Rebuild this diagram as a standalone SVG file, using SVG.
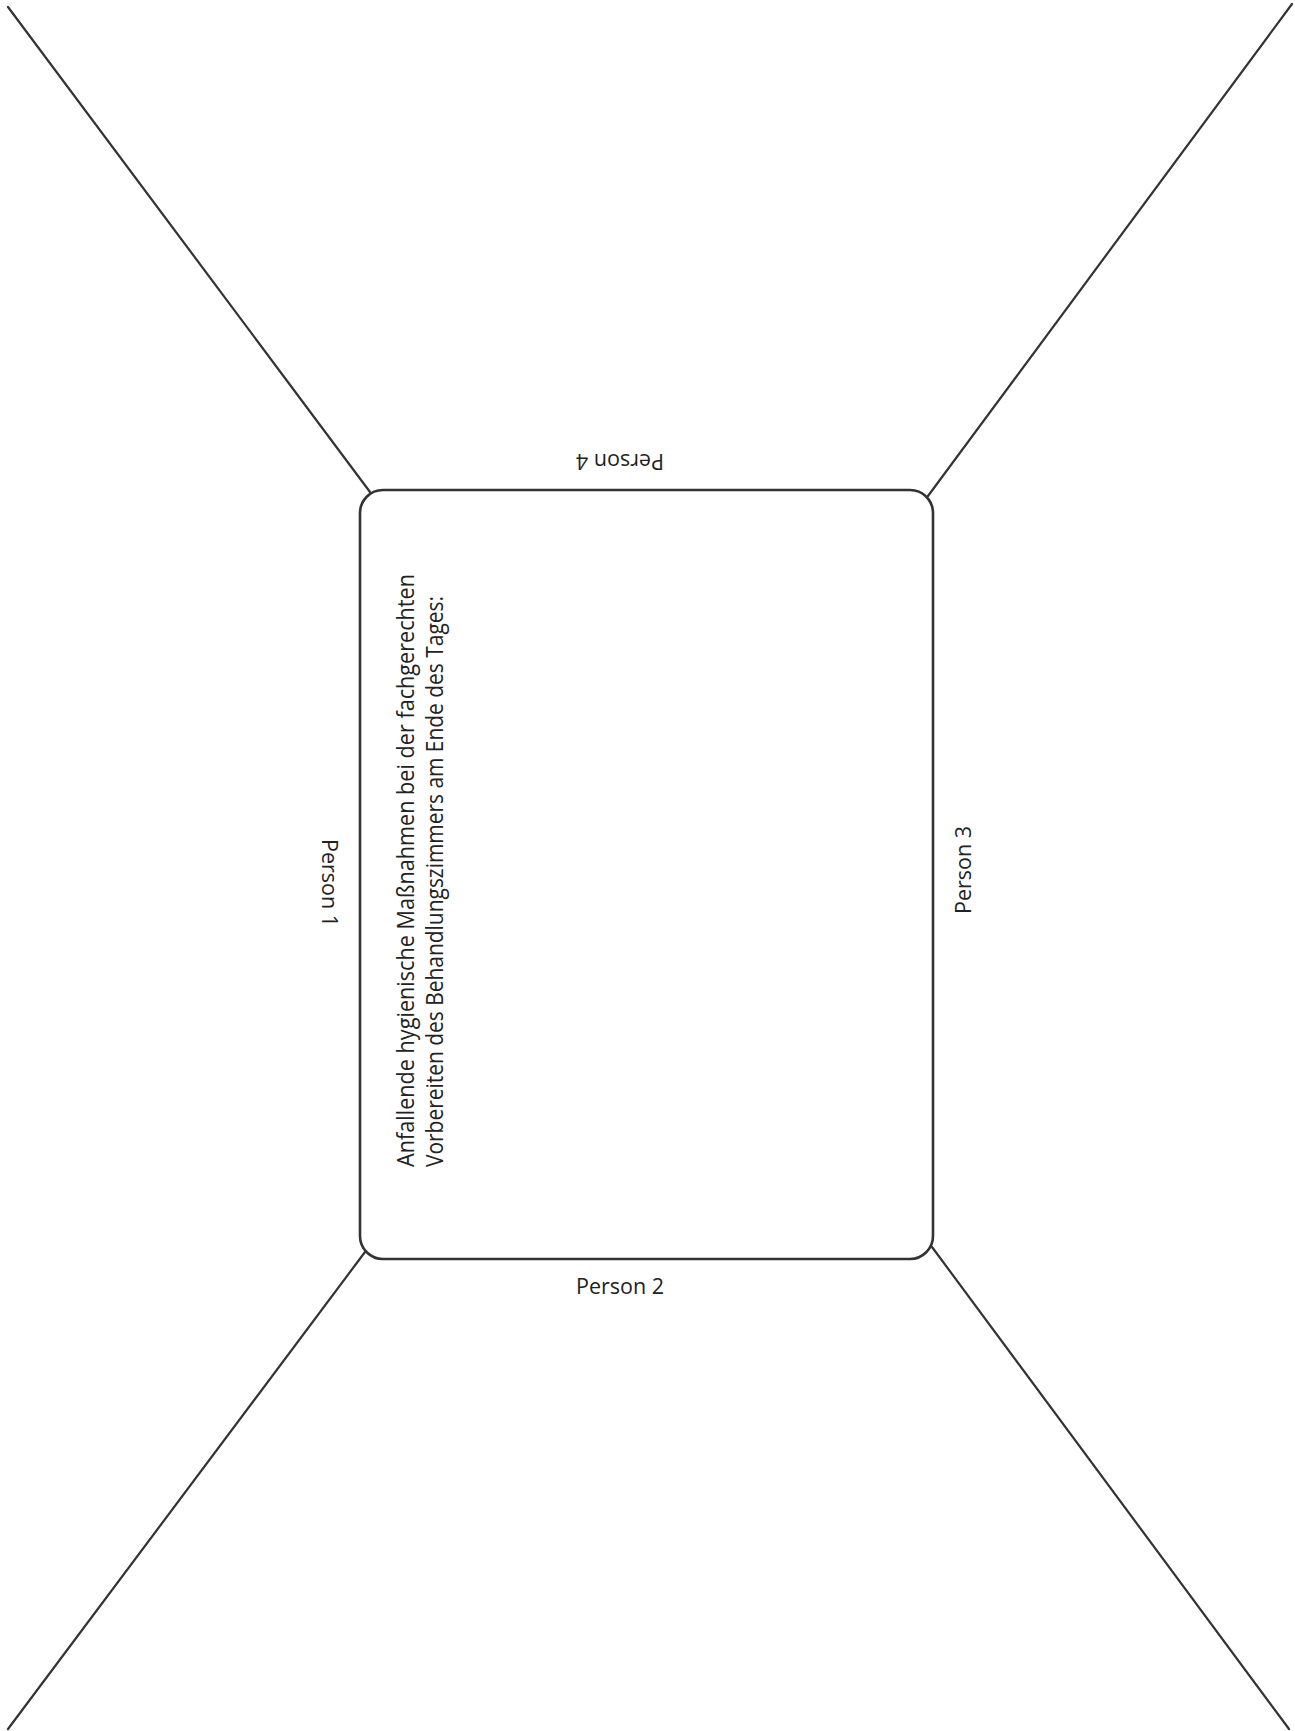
<svg xmlns="http://www.w3.org/2000/svg" width="1295" height="1731" viewBox="0 0 1295 1731">
<style>
.ln{stroke:#333;stroke-width:2.2;fill:none;stroke-linecap:round}
.box{stroke:#333;stroke-width:2.6;fill:#fff}
.t{font-family:"Open Sans","Liberation Sans",sans-serif;font-size:21.5px;fill:#222}
.m{font-size:23px}
</style>
<rect width="1295" height="1731" fill="#fff"/>
<g id="connectors">
<line class="ln" x1="8" y1="7" x2="370" y2="492"/>
<line class="ln" x1="1292" y1="4" x2="928" y2="496"/>
<line class="ln" x1="365" y1="1252" x2="8" y2="1729"/>
<line class="ln" x1="932" y1="1247" x2="1289" y2="1729"/>
</g>
<g id="center">
<rect class="box" x="360" y="490" width="573" height="769" rx="23" ry="23"/>
<text class="t m" transform="translate(414,1167) rotate(-90)" textLength="593" lengthAdjust="spacingAndGlyphs">Anfallende hygienische Maßnahmen bei der fachgerechten</text>
<text class="t m" transform="translate(443,1167) rotate(-90)" textLength="571" lengthAdjust="spacingAndGlyphs">Vorbereiten des Behandlungszimmers am Ende des Tages:</text>
</g>
<g id="person1"><text class="t" text-anchor="middle" transform="translate(322,883) rotate(90)">Person 1</text></g>
<g id="person2"><text class="t" text-anchor="middle" x="620" y="1294">Person 2</text></g>
<g id="person3"><text class="t" text-anchor="middle" transform="translate(971,870) rotate(-90)">Person 3</text></g>
<g id="person4"><text class="t" text-anchor="middle" transform="translate(620,454) rotate(180)">Person 4</text></g>
</svg>
